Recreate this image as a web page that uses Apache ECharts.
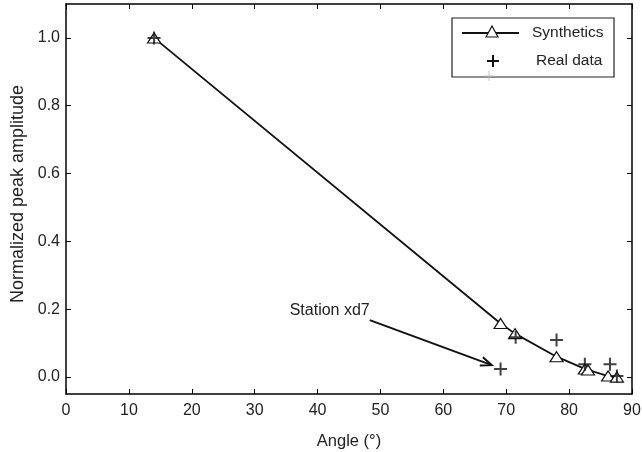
<!DOCTYPE html>
<html><head><meta charset="utf-8">
<script src="https://cdn.jsdelivr.net/npm/echarts@6/dist/echarts.min.js"></script>
<style>html,body{margin:0;padding:0;background:#fff}#c{width:642px;height:452px}</style>
</head><body><div id="c"></div>
<script>
const synthAngle = [14.0, 69.1, 71.4, 78.0, 82.5, 83.0, 86.2, 87.6];
const synthAmp   = [1.0, 0.158, 0.128, 0.060, 0.024, 0.021, 0.003, 0.0];
const realAngle  = [14.0, 69.1, 71.5, 78.0, 82.5, 86.5, 87.6];
const realAmp    = [1.0, 0.024, 0.117, 0.109, 0.038, 0.038, 0.003];
const yTicks = [0, 0.2, 0.4, 0.6, 0.8, 1.0];
const xTicks = [0, 10, 20, 30, 40, 50, 60, 70, 80, 90];
const annotText = 'Station xd7';
const annotFrom = [48.3, 0.168];
const annotTo = [67.7, 0.035];

const font = 'Liberation Sans, Arial, sans-serif';
const crossPath = 'path://M0,-6L0,6M-6,0L6,0';
const triPath = 'path://M0,-6L6,5L-6,5Z';
const chart = echarts.init(document.getElementById('c'));
const axisLine = {show:true, onZero:false, lineStyle:{color:'#000', width:1.5}};
const tickInside = {show:true, inside:true, length:5, lineStyle:{color:'#000', width:1}};
chart.setOption({
  animation:false,
  backgroundColor:'#fff',
  grid:{left:66, right:10, top:4, bottom:58, containLabel:false, outerBoundsMode:'none'},
  xAxis:[{
    type:'value', min:0, max:90, interval:10,
    name:'Angle (°)', nameLocation:'middle', nameGap:39,
    nameTextStyle:{fontFamily:font, fontSize:16.5, color:'#222'},
    axisLine, axisTick:tickInside, splitLine:{show:false},
    axisLabel:{fontFamily:font, fontSize:16, color:'#222', margin:9, customValues:xTicks}
  },{
    type:'value', min:0, max:90, interval:10, position:'top',
    axisLine, axisTick:tickInside, axisLabel:{show:false}, splitLine:{show:false}
  }],
  yAxis:[{
    type:'value', min:-0.05, max:1.1,
    name:'Normalized peak amplitude', nameLocation:'middle', nameGap:39,
    nameTextStyle:{fontFamily:font, fontSize:18, color:'#222', padding:[0,0,0,10]},
    axisLine, splitLine:{show:false},
    axisTick:Object.assign({customValues:yTicks}, tickInside),
    axisLabel:{fontFamily:font, fontSize:16, color:'#222', margin:6, customValues:yTicks,
      formatter:v=>v.toFixed(1)}
  },{
    type:'value', min:-0.05, max:1.1, position:'right',
    axisLine, splitLine:{show:false},
    axisTick:Object.assign({customValues:yTicks}, tickInside),
    axisLabel:{show:false}
  }],
  series:[{
    name:'Synthetics', type:'line',
    data:synthAngle.map((a,i)=>[a, synthAmp[i]]),
    symbol:triPath, symbolSize:[13,11], symbolKeepAspect:true,
    lineStyle:{color:'#111', width:1.8},
    itemStyle:{color:'#fff', borderColor:'#111', borderWidth:1.2},
    z:3
  },{
    name:'Real data', type:'scatter',
    data:realAngle.map((a,i)=>[a, realAmp[i]]),
    symbol:crossPath, symbolSize:13,
    itemStyle:{color:'none', borderColor:'#111', borderWidth:2},
    z:4
  }]
});

function cross(cx, cy, r, stroke, lw){
  return [
    {type:'line', shape:{x1:cx-r, y1:cy, x2:cx+r, y2:cy}, style:{stroke, lineWidth:lw}, z:12},
    {type:'line', shape:{x1:cx, y1:cy-r, x2:cx, y2:cy+r}, style:{stroke, lineWidth:lw}, z:12}
  ];
}
function draw(){
  const p0 = chart.convertToPixel({xAxisIndex:0, yAxisIndex:0}, annotFrom);
  const p1 = chart.convertToPixel({xAxisIndex:0, yAxisIndex:0}, annotTo);
  const ang = Math.atan2(p1[1]-p0[1], p1[0]-p0[0]);
  const hl = 12, ha = 0.38;
  const h1 = [p1[0]-hl*Math.cos(ang-ha), p1[1]-hl*Math.sin(ang-ha)];
  const h2 = [p1[0]-hl*Math.cos(ang+ha), p1[1]-hl*Math.sin(ang+ha)];
  const lx = 452, ly = 18, lw = 162, lh = 59;
  const tx = lx+40, ty = ly+14;
  chart.setOption({graphic:[
    {type:'line', shape:{x1:p0[0], y1:p0[1], x2:p1[0], y2:p1[1]}, style:{stroke:'#111', lineWidth:2}},
    {type:'polyline', shape:{points:[h1, p1, h2]}, style:{stroke:'#111', lineWidth:2, fill:null}},
    {type:'text', x:p0[0], y:p0[1]-9, style:{text:annotText, font:'16px '+font, fill:'#222', align:'right', verticalAlign:'middle'}},
    {type:'rect', shape:{x:lx, y:ly, width:lw, height:lh}, style:{stroke:'#222', lineWidth:1.2, fill:'#fff'}, z:10},
    {type:'line', shape:{x1:lx+10, y1:ly+15, x2:lx+67, y2:ly+15}, style:{stroke:'#111', lineWidth:1.8}, z:11},
    {type:'polygon', shape:{points:[[tx,ty-6],[tx+6,ty+5],[tx-6,ty+5]]}, style:{stroke:'#111', lineWidth:1.2, fill:'#fff'}, z:12},
    {type:'text', x:lx+80, y:ly+15, style:{text:'Synthetics', font:'15.5px '+font, fill:'#222', verticalAlign:'middle'}, z:12},
    ...cross(lx+41, ly+43, 6, '#111', 2),
    {type:'text', x:lx+84, y:ly+43, style:{text:'Real data', font:'15.5px '+font, fill:'#222', verticalAlign:'middle'}, z:12},
    ...cross(lx+37, ly+58, 5, '#bbb', 0.8)
  ]});
}
draw();
</script></body></html>
